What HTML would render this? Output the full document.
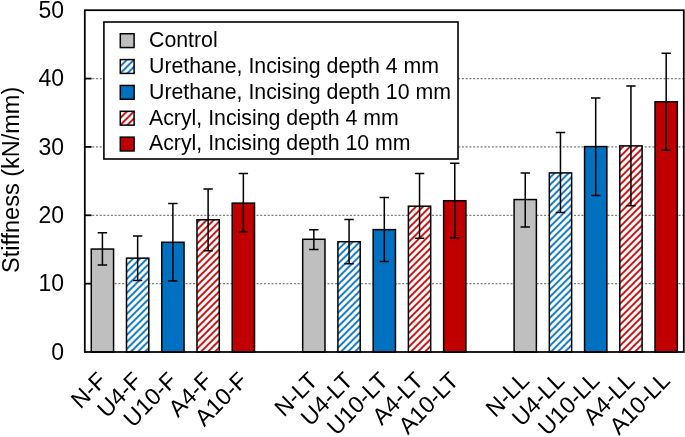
<!DOCTYPE html><html><head><meta charset="utf-8"><style>html,body{margin:0;padding:0;background:#fff;}svg{display:block;will-change:transform;}text{font-family:"Liberation Sans", sans-serif;fill:#000;}</style></head><body>
<svg width="685" height="437" viewBox="0 0 685 437">
<defs>
<pattern id="hb" patternUnits="userSpaceOnUse" width="7.0" height="7.0" x="6.70" y="0"><rect width="7.0" height="7.0" fill="#fff"/><path d="M-3.5,3.5 L3.5,-3.5 M0,7.0 L7.0,0 M3.5,10.5 L10.5,3.5" stroke="#0070C0" stroke-width="1.9"/></pattern>
<pattern id="hr" patternUnits="userSpaceOnUse" width="7.0" height="7.0" x="6.70" y="0"><rect width="7.0" height="7.0" fill="#fff"/><path d="M-3.5,3.5 L3.5,-3.5 M0,7.0 L7.0,0 M3.5,10.5 L10.5,3.5" stroke="#C00000" stroke-width="1.9"/></pattern>
<pattern id="hbl" patternUnits="userSpaceOnUse" width="7.0" height="7.0" x="4.70" y="0"><rect width="7.0" height="7.0" fill="#fff"/><path d="M-3.5,3.5 L3.5,-3.5 M0,7.0 L7.0,0 M3.5,10.5 L10.5,3.5" stroke="#0070C0" stroke-width="1.9"/></pattern>
<pattern id="hrl" patternUnits="userSpaceOnUse" width="7.0" height="7.0" x="0.40" y="0"><rect width="7.0" height="7.0" fill="#fff"/><path d="M-3.5,3.5 L3.5,-3.5 M0,7.0 L7.0,0 M3.5,10.5 L10.5,3.5" stroke="#C00000" stroke-width="1.9"/></pattern>
</defs>
<rect width="685" height="437" fill="#fff"/>
<line x1="84.8" y1="283.64" x2="683.8" y2="283.64" stroke="#808080" stroke-width="1.2" stroke-dasharray="2.1 1.634" stroke-dashoffset="0.06"/>
<line x1="84.8" y1="215.28" x2="683.8" y2="215.28" stroke="#808080" stroke-width="1.2" stroke-dasharray="2.1 1.634" stroke-dashoffset="0.06"/>
<line x1="84.8" y1="146.92" x2="683.8" y2="146.92" stroke="#808080" stroke-width="1.2" stroke-dasharray="2.1 1.634" stroke-dashoffset="0.06"/>
<line x1="84.8" y1="78.56" x2="683.8" y2="78.56" stroke="#808080" stroke-width="1.2" stroke-dasharray="2.1 1.634" stroke-dashoffset="0.06"/>
<rect x="91.27" y="249.05" width="22.3" height="102.95" fill="#BFBFBF" stroke="#000" stroke-width="1.5"/>
<rect x="126.50" y="258.14" width="22.3" height="93.86" fill="url(#hb)" stroke="#000" stroke-width="1.5"/>
<rect x="161.74" y="242.28" width="22.3" height="109.72" fill="#0070C0" stroke="#000" stroke-width="1.5"/>
<rect x="196.97" y="219.79" width="22.3" height="132.21" fill="url(#hr)" stroke="#000" stroke-width="1.5"/>
<rect x="232.21" y="203.11" width="22.3" height="148.89" fill="#C00000" stroke="#000" stroke-width="1.5"/>
<rect x="302.68" y="239.27" width="22.3" height="112.73" fill="#BFBFBF" stroke="#000" stroke-width="1.5"/>
<rect x="337.91" y="241.74" width="22.3" height="110.26" fill="url(#hb)" stroke="#000" stroke-width="1.5"/>
<rect x="373.15" y="229.64" width="22.3" height="122.36" fill="#0070C0" stroke="#000" stroke-width="1.5"/>
<rect x="408.39" y="206.19" width="22.3" height="145.81" fill="url(#hr)" stroke="#000" stroke-width="1.5"/>
<rect x="443.62" y="200.72" width="22.3" height="151.28" fill="#C00000" stroke="#000" stroke-width="1.5"/>
<rect x="514.09" y="199.56" width="22.3" height="152.44" fill="#BFBFBF" stroke="#000" stroke-width="1.5"/>
<rect x="549.33" y="172.90" width="22.3" height="179.10" fill="url(#hb)" stroke="#000" stroke-width="1.5"/>
<rect x="584.56" y="146.58" width="22.3" height="205.42" fill="#0070C0" stroke="#000" stroke-width="1.5"/>
<rect x="619.80" y="145.89" width="22.3" height="206.11" fill="url(#hr)" stroke="#000" stroke-width="1.5"/>
<rect x="655.03" y="101.80" width="22.3" height="250.20" fill="#C00000" stroke="#000" stroke-width="1.5"/>
<path d="M102.42,264.98V232.85M97.72,232.85h9.4M97.72,264.98h9.4" stroke="#000" stroke-width="1.5" fill="none"/>
<path d="M137.65,280.56V235.99M132.95,235.99h9.4M132.95,280.56h9.4" stroke="#000" stroke-width="1.5" fill="none"/>
<path d="M172.89,281.11V203.39M168.19,203.39h9.4M168.19,281.11h9.4" stroke="#000" stroke-width="1.5" fill="none"/>
<path d="M208.12,250.69V188.96M203.42,188.96h9.4M203.42,250.69h9.4" stroke="#000" stroke-width="1.5" fill="none"/>
<path d="M243.36,231.69V173.58M238.66,173.58h9.4M238.66,231.69h9.4" stroke="#000" stroke-width="1.5" fill="none"/>
<path d="M313.83,249.53V229.64M309.13,229.64h9.4M309.13,249.53h9.4" stroke="#000" stroke-width="1.5" fill="none"/>
<path d="M349.06,263.82V219.38M344.36,219.38h9.4M344.36,263.82h9.4" stroke="#000" stroke-width="1.5" fill="none"/>
<path d="M384.30,261.42V197.51M379.60,197.51h9.4M379.60,261.42h9.4" stroke="#000" stroke-width="1.5" fill="none"/>
<path d="M419.54,238.18V173.58M414.84,173.58h9.4M414.84,238.18h9.4" stroke="#000" stroke-width="1.5" fill="none"/>
<path d="M454.77,237.84V163.33M450.07,163.33h9.4M450.07,237.84h9.4" stroke="#000" stroke-width="1.5" fill="none"/>
<path d="M525.24,226.90V172.90M520.54,172.90h9.4M520.54,226.90h9.4" stroke="#000" stroke-width="1.5" fill="none"/>
<path d="M560.48,212.55V132.56M555.78,132.56h9.4M555.78,212.55h9.4" stroke="#000" stroke-width="1.5" fill="none"/>
<path d="M595.71,195.46V98.04M591.01,98.04h9.4M591.01,195.46h9.4" stroke="#000" stroke-width="1.5" fill="none"/>
<path d="M630.95,205.71V86.08M626.25,86.08h9.4M626.25,205.71h9.4" stroke="#000" stroke-width="1.5" fill="none"/>
<path d="M666.18,150.34V53.27M661.48,53.27h9.4M661.48,150.34h9.4" stroke="#000" stroke-width="1.5" fill="none"/>
<line x1="84.8" y1="283.64" x2="91.6" y2="283.64" stroke="#000" stroke-width="1.75"/>
<line x1="84.8" y1="215.28" x2="91.6" y2="215.28" stroke="#000" stroke-width="1.75"/>
<line x1="84.8" y1="146.92" x2="91.6" y2="146.92" stroke="#000" stroke-width="1.75"/>
<line x1="84.8" y1="78.56" x2="91.6" y2="78.56" stroke="#000" stroke-width="1.75"/>
<rect x="84.8" y="10.2" width="599.00" height="341.80" fill="none" stroke="#000" stroke-width="1.75"/>
<rect x="103.9" y="22.0" width="354.10" height="137.00" fill="#fff" stroke="#000" stroke-width="1.6"/>
<rect x="120.3" y="33.75" width="13.8" height="13.8" fill="#BFBFBF" stroke="#000" stroke-width="1.5"/>
<text x="149.0" y="47.40" font-size="21.3">Control</text>
<rect x="120.3" y="59.60" width="13.8" height="13.8" fill="url(#hbl)" stroke="#000" stroke-width="1.5"/>
<text x="149.0" y="73.15" font-size="21.3">Urethane, Incising depth 4 mm</text>
<rect x="120.3" y="85.45" width="13.8" height="13.8" fill="#0070C0" stroke="#000" stroke-width="1.5"/>
<text x="149.0" y="98.90" font-size="21.3">Urethane, Incising depth 10 mm</text>
<rect x="120.3" y="111.30" width="13.8" height="13.8" fill="url(#hrl)" stroke="#000" stroke-width="1.5"/>
<text x="149.0" y="124.65" font-size="21.3">Acryl, Incising depth 4 mm</text>
<rect x="120.3" y="137.15" width="13.8" height="13.8" fill="#C00000" stroke="#000" stroke-width="1.5"/>
<text x="149.0" y="150.40" font-size="21.3">Acryl, Incising depth 10 mm</text>
<text x="64" y="359.80" font-size="23" text-anchor="end">0</text>
<text x="64" y="291.44" font-size="23" text-anchor="end">10</text>
<text x="64" y="223.08" font-size="23" text-anchor="end">20</text>
<text x="64" y="154.72" font-size="23" text-anchor="end">30</text>
<text x="64" y="86.36" font-size="23" text-anchor="end">40</text>
<text x="64" y="18.00" font-size="23" text-anchor="end">50</text>
<text transform="translate(18.5,179.9) rotate(-90)" font-size="23.5" text-anchor="middle">Stiffness (kN/mm)</text>
<text transform="translate(107.62,381.90) scale(1,1.03) rotate(-45)" font-size="23" text-anchor="end">N-F</text>
<text transform="translate(142.85,381.90) scale(1,1.03) rotate(-45)" font-size="23" text-anchor="end">U4-F</text>
<text transform="translate(178.09,381.90) scale(1,1.03) rotate(-45)" font-size="23" text-anchor="end">U10-F</text>
<text transform="translate(213.32,381.90) scale(1,1.03) rotate(-45)" font-size="23" text-anchor="end">A4-F</text>
<text transform="translate(248.56,381.90) scale(1,1.03) rotate(-45)" font-size="23" text-anchor="end">A10-F</text>
<text transform="translate(319.03,381.90) scale(1,1.03) rotate(-45)" font-size="23" text-anchor="end">N-LT</text>
<text transform="translate(354.26,381.90) scale(1,1.03) rotate(-45)" font-size="23" text-anchor="end">U4-LT</text>
<text transform="translate(389.50,381.90) scale(1,1.03) rotate(-45)" font-size="23" text-anchor="end">U10-LT</text>
<text transform="translate(424.74,381.90) scale(1,1.03) rotate(-45)" font-size="23" text-anchor="end">A4-LT</text>
<text transform="translate(459.97,381.90) scale(1,1.03) rotate(-45)" font-size="23" text-anchor="end">A10-LT</text>
<text transform="translate(530.44,381.90) scale(1,1.03) rotate(-45)" font-size="23" text-anchor="end">N-LL</text>
<text transform="translate(565.68,381.90) scale(1,1.03) rotate(-45)" font-size="23" text-anchor="end">U4-LL</text>
<text transform="translate(600.91,381.90) scale(1,1.03) rotate(-45)" font-size="23" text-anchor="end">U10-LL</text>
<text transform="translate(636.15,381.90) scale(1,1.03) rotate(-45)" font-size="23" text-anchor="end">A4-LL</text>
<text transform="translate(671.38,381.90) scale(1,1.03) rotate(-45)" font-size="23" text-anchor="end">A10-LL</text>
</svg></body></html>
